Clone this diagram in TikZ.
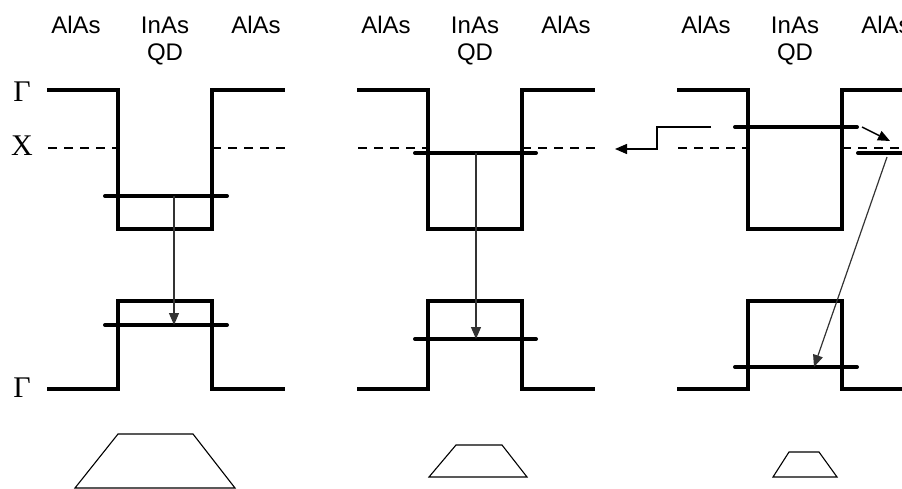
\documentclass[tikz,border=0pt]{standalone}
\usepackage{fontspec}
\setmainfont{Liberation Serif}
\newfontfamily\lab{Liberation Sans}
\usetikzlibrary{arrows.meta}
\begin{document}
\begin{tikzpicture}[x=1pt,y=-1pt,
  band/.style={line width=3.5pt, line cap=butt, line join=miter},
  level/.style={line width=4pt, line cap=round},
  xband/.style={line width=2.4pt, dash pattern=on 9pt off 7pt},
  trans/.style={line width=1.2pt, draw=black!80, -{Triangle[length=12pt,width=10pt]}},
  hop/.style={line width=1.4pt, -{Triangle[length=12pt,width=10pt]}},
  mat/.style={font=\lab\fontsize{24}{27}\selectfont, anchor=base},
  sym/.style={font=\fontsize{30}{32}\selectfont},
  dot/.style={line width=1.1pt, line join=miter}]
\useasboundingbox (0,0) rectangle (902,489);
\clip (0,0) rectangle (902,489);
% symbols
\node[sym] (g1) at (22,92) {Γ};
\node[sym] (xs) at (22,146) {X};
\node[sym] (g2) at (22,388) {Γ};
% panels
\foreach \ox/\name in {0/a,310/b,630/c}{
  \begin{scope}[xshift=\ox]
    \node[mat] (l\name) at (76,34) {AlAs};
    \node[mat] (m\name) at (165,34) {InAs};
    \node[mat] (q\name) at (165,61) {QD};
    \node[mat] (r\name) at (256,34) {AlAs};
    \draw[band] (47,90) -- (118,90) -- (118,229) -- (212,229) -- (212,90) -- (285,90);
    \draw[band] (47,389) -- (118,389) -- (118,301) -- (212,301) -- (212,389) -- (285,389);
    \draw[xband] (48,148) -- (118,148);
    \draw[xband] (212,148) -- (285,148);
  \end{scope}
}
% panel 1 levels
\draw[level] (105,196) -- (227,196);
\draw[level] (105,325) -- (227,325);
\coordinate (e1) at (174,196);
\coordinate (h1) at (174,325);
\draw[trans] (e1) -- (h1);
% panel 2 levels
\draw[level] (415,153) -- (536,153);
\draw[level] (415,339) -- (536,339);
\coordinate (e2) at (476,153);
\coordinate (h2) at (476,339);
\draw[trans] (e2) -- (h2);
% panel 3 levels
\draw[level] (735,127) -- (857,127);
\draw[level] (858,153) -- (910,153);
\draw[level] (735,367) -- (857,367);
\coordinate (e3) at (862,127);
\coordinate (x3) at (890,141);
\draw[hop] (e3) -- (x3);
\coordinate (s3) at (887,157);
\coordinate (h3) at (814,367);
\draw[trans] (s3) -- (h3);
\coordinate (o1) at (711,127);
\coordinate (o2) at (615,149);
\draw[hop] (o1) -- (657,127) |- (o2);
% dots (trapezoids)
\draw[dot] (75,488) -- (118,434) -- (193,434) -- (235,488) -- cycle;
\draw[dot] (429,477) -- (456,445) -- (502,445) -- (527,477) -- cycle;
\draw[dot] (773,477) -- (789,452) -- (819,452) -- (837,477) -- cycle;
\end{tikzpicture}
\end{document}
